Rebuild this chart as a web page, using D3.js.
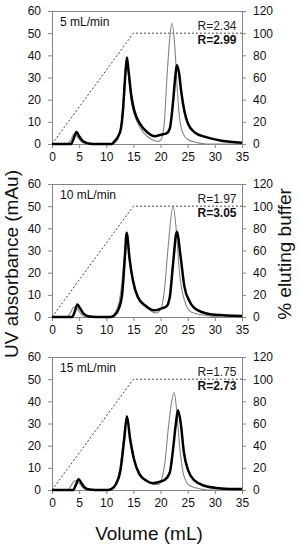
<!DOCTYPE html>
<html>
<head>
<meta charset="utf-8">
<script src="https://cdn.jsdelivr.net/npm/d3@7"></script>
<style>
  body { margin: 0; background: #fff; }
  svg { display: block; font-family: Arial, "Liberation Sans", sans-serif; }
</style>
</head>
<body>
<div id="chart"></div>
<script>
// flow rates / annotations
const flowLabels = ["5 mL/min", "10 mL/min", "15 mL/min"];
const rThin = ["R=2.34", "R=1.97", "R=1.75"];
const rThick = ["R=2.99", "R=3.05", "R=2.73"];

// gradient (% eluting buffer) vs volume
const gradVol = [0, 15, 35];
const gradPct = [0, 100, 100];

// UV traces [volume mL, mAu]
const thin5 = [[0,0],[2.8,0],[3.4,1.5],[4.05,4.5],[4.6,3.5],[5.3,1.2],[6.2,0.2],[7,0],[11.2,0],[11.8,1],[12.2,2.7],[12.8,10],[13.4,30],[13.75,38.5],[14.2,28],[14.6,19],[15.2,13],[16.3,7],[17.5,3.5],[18.9,1.5],[19.5,1.2],[20.1,2],[20.7,10],[21.2,31],[21.7,48],[22.1,54.6],[22.6,44.8],[23.1,23.8],[23.5,11.7],[24.1,5],[25,2],[26.9,0.5],[28.5,0],[35,0]];
const thick5 = [[0,0],[3.5,0],[4.0,2.5],[4.5,5.4],[5.0,3.5],[5.6,1.5],[6.5,0.4],[7.5,0],[11,0],[11.5,1.2],[12.2,3.5],[12.7,7],[13.1,16],[13.5,31],[13.8,39],[14.1,33],[14.6,22],[15.2,14.7],[16.1,9.5],[17.7,5],[18.9,3.5],[20.1,4.2],[21.1,4.8],[21.7,7],[22.3,19],[22.7,30],[23.0,35.5],[23.4,32],[23.8,23.7],[24.4,14.7],[25.0,9.5],[26.3,5.2],[28.1,3.3],[31.2,1.5],[35,0.6]];

const thin10 = [[0,0],[2.8,0],[3.4,2],[4.05,4.5],[4.7,3.5],[5.4,1.2],[6.3,0],[11,0],[11.5,1.5],[12.3,6],[12.9,16],[13.4,28.7],[13.9,31.5],[14.6,19.6],[15.8,9.8],[17.1,5.3],[18.3,2.6],[19.2,1.8],[20.1,3.8],[20.7,12],[21.4,31.7],[22.3,50],[22.9,39],[23.5,19.6],[24.4,7.5],[25.6,2.3],[28.1,0.8],[31.2,0],[35,0]];
const thick10 = [[0,0],[3.7,0],[4.2,2.5],[4.67,5.6],[5.2,3.8],[5.8,1.5],[6.9,0.2],[8,0],[10.8,0],[11.5,0.8],[12.3,3.8],[12.9,9.8],[13.4,26],[13.75,38],[14.3,26],[14.9,16.6],[15.8,9],[17.1,5.3],[18.3,3.3],[18.9,3],[20.1,3.8],[21.1,4.8],[21.7,9],[22.3,24],[23.0,38.5],[23.7,27],[24.4,13.6],[25.4,6.8],[26.9,3],[30,1],[35,0.5]];

const thin15 = [[0,0],[2.9,0],[3.5,2],[4.2,4.2],[4.9,3.3],[5.7,1],[6.6,0],[10.8,0],[11.5,2],[12.5,9.4],[13.3,25.8],[13.75,32.5],[14.5,22.8],[15.5,10.9],[17.1,4.9],[18.6,2.7],[19.5,2.4],[20.1,4.2],[20.8,12.4],[21.4,27.3],[22.0,39.2],[22.5,44],[22.9,37.6],[23.5,19.9],[24.3,6.4],[25.4,1.9],[27.5,0.4],[29,0],[35,0]];
const thick15 = [[0,0],[3.9,0],[4.4,2.3],[4.9,4.9],[5.4,3.2],[6.0,1.2],[6.9,0.2],[8,0],[10.3,0],[10.9,0.4],[11.8,2.7],[12.6,8.7],[13.3,22.8],[13.8,33.3],[14.4,22.8],[15.1,13.9],[16.1,7.2],[17.4,4.2],[18.6,3.1],[19.8,3.7],[20.8,4.6],[21.7,7.9],[22.3,18.4],[22.8,29.6],[23.2,36],[23.7,30.4],[24.3,16.9],[25.1,8.7],[26.3,4.2],[28.1,1.9],[31.2,0.7],[35,0.4]];

const thinTraces = [thin5, thin10, thin15];
const thickTraces = [thick5, thick10, thick15];

const xTicks = [0, 5, 10, 15, 20, 25, 30, 35];
const uvTicks = [0, 10, 20, 30, 40, 50, 60];
const pctTicks = [0, 20, 40, 60, 80, 100, 120];

const WIDTH = 300;
const HEIGHT = 550;
const PLOT_LEFT = 52;
const PLOT_RIGHT = 242;
const PLOT_H = 133;
const PANEL_TOPS = [11, 184, 357];
const AXIS_COLOR = "#868686";

const svg = d3.select("#chart").append("svg")
  .attr("width", WIDTH)
  .attr("height", HEIGHT);

const x = d3.scaleLinear().domain([0, 35]).range([PLOT_LEFT, PLOT_RIGHT]);

PANEL_TOPS.forEach((top, i) => {
  const yUV = d3.scaleLinear().domain([0, 60]).range([top + PLOT_H, top]);
  const yPct = d3.scaleLinear().domain([0, 120]).range([top + PLOT_H, top]);
  const g = svg.append("g");

  // top border
  g.append("line")
    .attr("x1", PLOT_LEFT).attr("x2", PLOT_RIGHT)
    .attr("y1", top + 0.5).attr("y2", top + 0.5)
    .attr("stroke", AXIS_COLOR);

  const styleAxis = sel => {
    sel.selectAll("path").attr("stroke", AXIS_COLOR);
    sel.selectAll("line").attr("stroke", AXIS_COLOR);
    sel.selectAll("text").attr("fill", "#111").attr("font-size", "12px")
      .attr("font-family", "Arial, 'Liberation Sans', sans-serif");
  };

  g.append("g")
    .attr("transform", `translate(0,${top + PLOT_H})`)
    .call(d3.axisBottom(x).tickValues(xTicks).tickSize(4).tickPadding(4).tickSizeOuter(0))
    .call(styleAxis);

  g.append("g")
    .attr("transform", `translate(${PLOT_LEFT},0)`)
    .call(d3.axisLeft(yUV).tickValues(uvTicks).tickSize(4).tickPadding(7).tickSizeOuter(0))
    .call(styleAxis);

  g.append("g")
    .attr("transform", `translate(${PLOT_RIGHT},0)`)
    .call(d3.axisRight(yPct).tickValues(pctTicks).tickSize(4).tickPadding(7).tickSizeOuter(0))
    .call(styleAxis);

  // gradient
  const grad = gradVol.map((v, k) => [v, gradPct[k]]);
  g.append("path")
    .datum(grad)
    .attr("fill", "none")
    .attr("stroke", "#444")
    .attr("stroke-width", 1)
    .attr("stroke-dasharray", "2,2")
    .attr("d", d3.line().x(d => x(d[0])).y(d => yPct(d[1])));

  const uvLine = d3.line()
    .x(d => x(d[0]))
    .y(d => yUV(d[1]))
    .curve(d3.curveMonotoneX);

  g.append("path")
    .datum(thinTraces[i])
    .attr("fill", "none")
    .attr("stroke", "#858585")
    .attr("stroke-width", 1.1)
    .attr("d", uvLine);

  g.append("path")
    .datum(thickTraces[i])
    .attr("fill", "none")
    .attr("stroke", "#000")
    .attr("stroke-width", 2.5)
    .attr("stroke-linejoin", "round")
    .attr("d", uvLine);

  g.append("text")
    .attr("x", 60).attr("y", top + 15)
    .attr("font-size", "12px").attr("fill", "#111")
    .text(flowLabels[i]);

  g.append("text")
    .attr("x", 236.5).attr("y", top + 18.5)
    .attr("text-anchor", "end")
    .attr("font-size", "12px").attr("fill", "#222")
    .text(rThin[i]);

  g.append("text")
    .attr("x", 236.5).attr("y", top + 32.5)
    .attr("text-anchor", "end")
    .attr("font-size", "12px").attr("font-weight", "bold").attr("fill", "#111")
    .text(rThick[i]);
});

// axis titles
svg.append("text")
  .attr("transform", "translate(18,264) rotate(-90)")
  .attr("text-anchor", "middle")
  .attr("font-size", "19px").attr("fill", "#111")
  .text("UV absorbance (mAu)");

svg.append("text")
  .attr("transform", "translate(291,254) rotate(-90)")
  .attr("text-anchor", "middle")
  .attr("font-size", "19px").attr("fill", "#111")
  .text("% eluting buffer");

svg.append("text")
  .attr("x", 149).attr("y", 540)
  .attr("text-anchor", "middle")
  .attr("font-size", "19px").attr("fill", "#111")
  .text("Volume (mL)");
</script>
</body>
</html>
